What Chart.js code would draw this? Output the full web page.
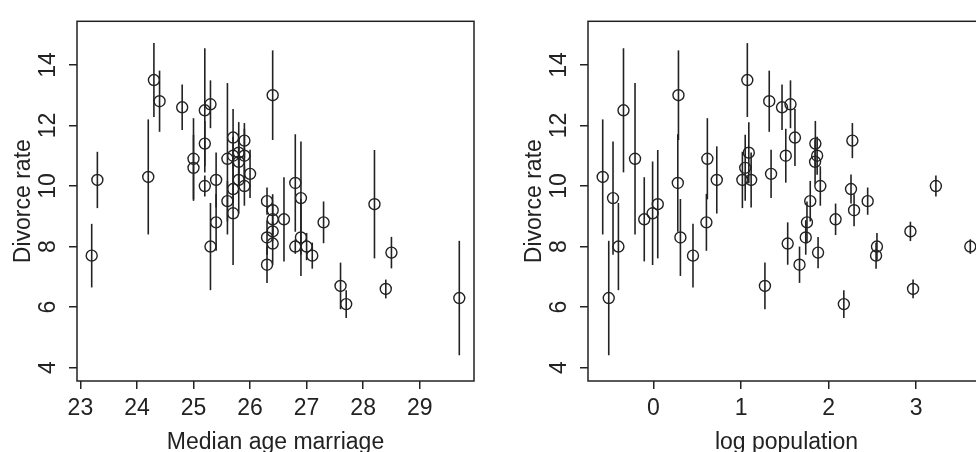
<!DOCTYPE html>
<html>
<head>
<meta charset="utf-8">
<script src="https://cdn.jsdelivr.net/npm/chart.js@4.4.1/dist/chart.umd.min.js"></script>
<style>
  html, body { margin:0; padding:0; background:#fff; overflow:hidden; width:976px; height:452px; }
  canvas { position:absolute; top:0; }
  #ageChart { left:0; }
  #popChart { left:511px; }
</style>
</head>
<body>
<canvas id="ageChart" width="488" height="452"></canvas>
<canvas id="popChart" width="488" height="452"></canvas>
<script>
// Waffle divorce data, one entry per state
const states = ['AL','AK','AZ','AR','CA','CO','CT','DE','DC','FL','GA','HI','ID','IL','IN','IA','KS','KY','LA','ME',
  'MD','MA','MI','MN','MS','MO','MT','NE','NH','NJ','NM','NY','NC','ND','OH','OK','OR','PA','RI','SC',
  'SD','TN','TX','UT','VT','VA','WA','WV','WI','WY'];
const population = [4.78,0.71,6.33,2.92,37.25,5.03,3.57,0.90,0.60,18.80,9.69,1.36,1.57,12.83,6.48,3.05,2.85,4.34,4.53,1.33,
  5.77,6.55,9.88,5.30,2.97,5.99,0.99,1.83,1.32,8.79,2.06,19.38,9.54,0.67,11.54,3.75,3.83,12.70,1.05,4.63,
  0.81,6.35,25.15,2.76,0.63,8.00,6.72,1.85,5.69,0.56];
const medianAge = [25.3,25.2,25.8,24.3,26.8,25.7,27.6,26.6,29.7,26.4,25.9,26.9,23.2,27.0,25.7,25.4,25.0,24.8,25.9,26.4,
  27.3,28.5,26.4,26.3,25.8,25.6,25.7,25.4,26.8,27.7,25.8,28.4,25.7,25.3,26.3,24.4,26.0,27.1,28.2,26.4,
  25.6,25.2,25.2,23.3,26.9,26.4,25.9,25.0,26.3,24.2];
const divorce = [12.7,12.5,10.8,13.5,8.0,11.6,6.7,8.9,6.3,8.5,11.5,8.3,7.7,8.0,11.0,10.2,10.6,12.6,11.0,13.0,
  8.8,7.8,9.2,7.4,11.1,9.5,9.1,8.8,10.1,6.1,10.2,6.6,9.9,8.0,9.5,12.8,10.4,7.7,9.4,8.1,
  10.9,11.4,10.0,10.2,9.6,8.9,10.0,10.9,8.3,10.3];
const divorceSE = [0.79,2.05,0.74,1.22,0.24,0.94,0.77,1.39,1.89,0.32,0.58,1.27,1.05,0.45,0.63,0.91,1.09,0.75,0.89,1.48,
  0.69,0.52,0.53,0.60,1.01,0.67,1.71,0.94,1.61,0.46,1.11,0.31,0.48,1.44,0.45,1.01,0.80,0.43,1.79,0.70,
  2.50,0.75,0.35,0.93,1.87,0.52,0.65,1.34,0.57,1.90];
const logPop = population.map(p => Math.log(p));

const ageTicks = [23,24,25,26,27,28,29];
const popTicks = [0,1,2,3];
const yTicks = [4,6,8,10,12,14];
const yLim = [4, 15];

const FONT = "'Liberation Sans', Arial, sans-serif";
const INK = '#222';

// R style axis range: data range stretched by 4% each side
function rRange(lo, hi){
  const d = (hi - lo) * 0.04;
  return [lo - d, hi + d];
}

// vertical +/- SE segments through each point
const errorBars = {
  id: 'errorBars',
  beforeDatasetsDraw(chart){
    const {ctx, scales:{x, y}} = chart;
    const xs = chart.data.datasets[0].data;
    ctx.save();
    ctx.strokeStyle = INK;
    ctx.lineWidth = 1.6;
    xs.forEach((pt, i) => {
      const px = x.getPixelForValue(pt.x);
      ctx.beginPath();
      ctx.moveTo(px, y.getPixelForValue(divorce[i] - divorceSE[i]));
      ctx.lineTo(px, y.getPixelForValue(divorce[i] + divorceSE[i]));
      ctx.stroke();
    });
    ctx.restore();
  }
};

// box around the plot region
const frame = {
  id: 'frame',
  afterDraw(chart){
    const {ctx, chartArea:a} = chart;
    ctx.save();
    ctx.strokeStyle = INK;
    ctx.lineWidth = 1.5;
    ctx.strokeRect(a.left, a.top, a.right - a.left, a.bottom - a.top);
    ctx.restore();
  }
};

function makeChart(id, xVals, xTicks, xTitle){
  const [xMin, xMax] = rRange(Math.min(...xVals), Math.max(...xVals));
  const [yMin, yMax] = rRange(yLim[0], yLim[1]);
  const grid = {drawOnChartArea:false, drawTicks:true, tickLength:8, color:INK, tickColor:INK, lineWidth:1.5, tickWidth:1.5};
  return new Chart(document.getElementById(id), {
    type:'scatter',
    data:{
      datasets:[{
        data: xVals.map((v, i) => ({x:v, y:divorce[i]})),
        pointStyle:'circle',
        pointRadius:5.5,
        pointBorderWidth:1.4,
        borderColor:INK,
        backgroundColor:'rgba(0,0,0,0)'
      }]
    },
    options:{
      responsive:false,
      animation:false,
      devicePixelRatio:1,
      layout:{padding:{top:13, right:14, left:0, bottom:0}},
      plugins:{legend:{display:false}, tooltip:{enabled:false}},
      scales:{
        x:{
          type:'linear', min:xMin, max:xMax,
          afterBuildTicks: s => { s.ticks = xTicks.map(v => ({value:v})); },
          afterFit: s => { s.height = 71; },
          border:{display:false},
          grid: grid,
          ticks:{padding:6, color:INK, autoSkip:false, maxRotation:0, minRotation:0, font:{family:FONT, size:23}},
          title:{display:true, text:xTitle, color:INK, padding:0, font:{family:FONT, size:23, lineHeight:0.8}}
        },
        y:{
          type:'linear', min:yMin, max:yMax,
          afterBuildTicks: s => { s.ticks = yTicks.map(v => ({value:v})); },
          afterFit: s => { s.width = 77; },
          border:{display:false},
          grid: grid,
          ticks:{padding:7.5, color:INK, autoSkip:false, minRotation:90, maxRotation:90, crossAlign:'center', font:{family:FONT, size:23}},
          title:{display:true, text:'Divorce rate', color:INK, padding:{top:10, bottom:0}, font:{family:FONT, size:23, lineHeight:1.2}}
        }
      }
    },
    plugins:[errorBars, frame]
  });
}

makeChart('ageChart', medianAge, ageTicks, 'Median age marriage');
makeChart('popChart', logPop, popTicks, 'log population');
</script>
</body>
</html>
